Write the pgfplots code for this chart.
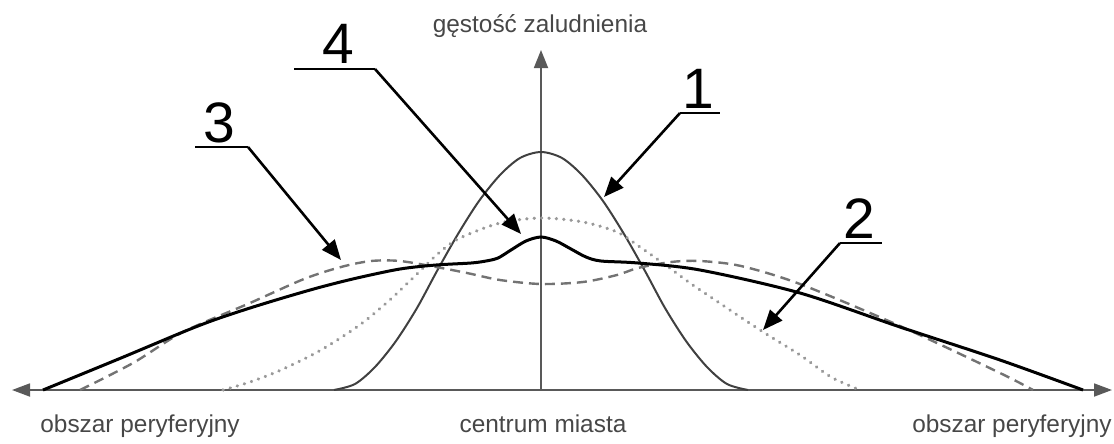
\documentclass[border=0pt]{standalone}
\usepackage{fontspec}
\setmainfont{Liberation Sans}
\usepackage{pgfplots}
\pgfplotsset{compat=1.18}
\usetikzlibrary{arrows.meta}

% x = pixel offset from the city centre, y = pixel height above the ground line
\definecolor{axisgray}{gray}{0.35}
\definecolor{labelgray}{gray}{0.28}

\begin{document}
\begin{tikzpicture}
\begin{axis}[
    x=0.5pt, y=0.5pt,
    xmin=-541, xmax=573,
    ymin=-51, ymax=390,
    hide axis,
    clip=false,
]
\path (axis cs:-541,-51) rectangle (axis cs:573,390);

% axes
\draw[axisgray, line width=0.9pt, {Triangle[length=9pt,width=6.5pt]}-{Triangle[length=9pt,width=6.5pt]}]
    (axis cs:-529,0) -- (axis cs:571,0);
\draw[axisgray, line width=0.9pt, -{Triangle[length=9pt,width=7pt]}]
    (axis cs:0,0) -- (axis cs:0,340);

% 1: compact, high centre
\addplot[black!75, line width=1pt, smooth] coordinates {
    (-207,0)(-186,6)(-166,23)(-145,49)(-124,82)(-104,119)(-83,156)(-62,189)
    (-41,215)(-21,232)(0,238)(21,232)(41,215)(62,189)(83,156)(104,119)
    (124,82)(145,49)(166,23)(186,6)(207,0)
};
% 2: dotted
\addplot[black!40, line width=1.7pt, smooth, line cap=round,
    dash pattern=on 0.1pt off 3.6pt] coordinates {
    (-318,0)(-291,8)(-260,20)(-220,40)(-180,66)(-148,93)(-120,120)(-101,138)
    (-81,152)(-41,167)(0,172)(42,168)(76,158)(99,143)(126,124)(149,107)
    (174,90)(219,60)(259,35)(290,13)(319,0)
};
% 3: dashed
\addplot[black!55, line width=1.2pt, smooth, dash pattern=on 5pt off 3pt] coordinates {
    (-461,0)(-408,27)(-358,58)(-291,87)(-237,111)(-200,123)(-170,129)(-141,129)
    (-105,123)(-74,117)(-41,110)(0,106)(42,108)(76,115)(97,122)(130,128)
    (159,129)(200,124)(259,106)(359,64)(459,17)(492,0)
};
% 4: thick solid
\addplot[black, line width=1.5pt, smooth] coordinates {
    (-498,0)(-420,32)(-358,58)(-327,70)(-291,82)(-255,93)(-220,103)(-184,112)
    (-141,121)(-105,125)(-70,127)(-55,129)(-43,132)(-30,140)(-15,149)(0,153)
    (15,149)(30,141)(45,133)(60,129)(97,127)(159,120)(259,97)(359,63)
    (459,30)(542,0)
};

% callouts
\tikzset{callout/.style={black, line width=1.3pt},
         tip/.style={-{Triangle[length=10pt,width=8pt]}}}
\draw[callout] (axis cs:-247,321) -- (axis cs:-166,321);
\draw[callout, tip] (axis cs:-166,321) -- (axis cs:-20,156);
\node[anchor=base, font=\fontsize{28.5}{30}\selectfont] at (axis cs:-203,327) {4};

\draw[callout] (axis cs:-346,243) -- (axis cs:-293,243);
\draw[callout, tip] (axis cs:-293,243) -- (axis cs:-200,130);
\node[anchor=base, font=\fontsize{28.5}{30}\selectfont] at (axis cs:-322,248) {3};

\draw[callout] (axis cs:139,277) -- (axis cs:179,277);
\draw[callout, tip] (axis cs:139,277) -- (axis cs:63,193);
\node[anchor=base, font=\fontsize{28.5}{30}\selectfont] at (axis cs:157,282) {1};

\draw[callout] (axis cs:299,147) -- (axis cs:341,147);
\draw[callout, tip] (axis cs:299,147) -- (axis cs:222,60);
\node[anchor=base, font=\fontsize{28.5}{30}\selectfont] at (axis cs:318,152) {2};

% labels
\node[anchor=base, text=labelgray, font=\fontsize{12.2}{14}\selectfont] at (axis cs:-1,358) {gęstość zaludnienia};
\node[anchor=base west, inner xsep=0pt, text=labelgray, font=\fontsize{12.2}{14}\selectfont] at (axis cs:-501,-42) {obszar peryferyjny};
\node[anchor=base, text=labelgray, font=\fontsize{12.2}{14}\selectfont] at (axis cs:2,-42) {centrum miasta};
\node[anchor=base east, inner xsep=0pt, text=labelgray, font=\fontsize{12.2}{14}\selectfont] at (axis cs:571,-42) {obszar peryferyjny};
\end{axis}
\end{tikzpicture}
\end{document}
